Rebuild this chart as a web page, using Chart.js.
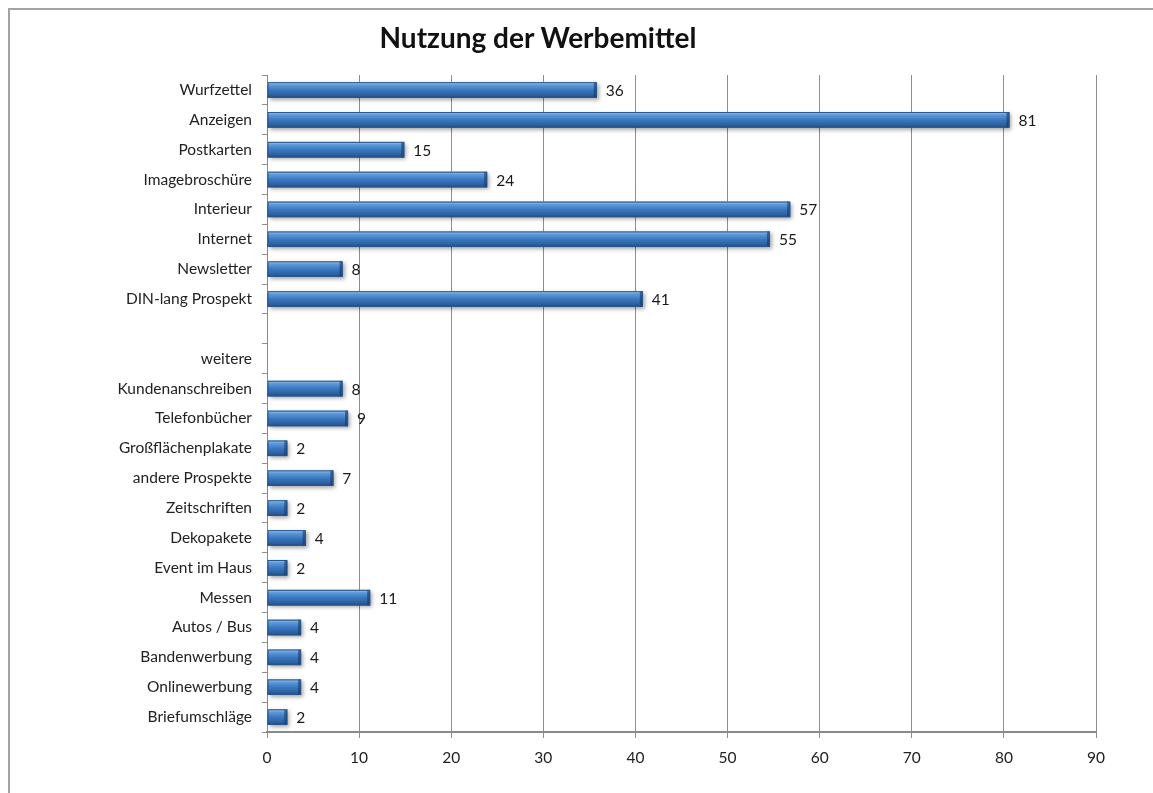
<!DOCTYPE html>
<html>
<head>
<meta charset="utf-8">
<script src="https://cdn.jsdelivr.net/npm/chart.js@4"></script>
<style>
  html, body { margin: 0; padding: 0; background: #fff; overflow: hidden; }
  #frame {
    position: absolute; left: 8px; top: 8px; width: 1160px; height: 800px;
    border: 2px solid #a3a3a3; box-sizing: border-box;
  }
  #title {
    position: absolute; left: 0; width: 1076px; top: 20px; text-align: center;
    font: bold 28px Lato, "Open Sans", sans-serif; color: #111;
  }
  #wrap { position: absolute; left: 0; top: 0; width: 1153px; height: 793px; }
</style>
</head>
<body>
<div id="frame"></div>
<div id="wrap"><canvas id="chart"></canvas></div>
<div id="title">Nutzung der Werbemittel</div>
<script>
const categories = [
  'Wurfzettel', 'Anzeigen', 'Postkarten', 'Imagebroschüre', 'Interieur', 'Internet',
  'Newsletter', 'DIN-lang Prospekt', '', 'weitere', 'Kundenanschreiben', 'Telefonbücher',
  'Großflächenplakate', 'andere Prospekte', 'Zeitschriften', 'Dekopakete', 'Event im Haus',
  'Messen', 'Autos / Bus', 'Bandenwerbung', 'Onlinewerbung', 'Briefumschläge'
];
const values = [36, 81, 15, 24, 57, 55, 8, 41, null, null, 8, 9, 2, 7, 2, 4, 2, 11, 4, 4, 4, 2];
// bars in the picture are slightly shorter than the labels say
const barLengths = [35.8, 80.6, 14.9, 23.9, 56.8, 54.6, 8.2, 40.8, null, null, 8.2, 8.8, 2.2, 7.2, 2.2, 4.2, 2.2, 11.2, 3.7, 3.7, 3.7, 2.2];
const xTicks = [0, 10, 20, 30, 40, 50, 60, 70, 80, 90];

const FONT = 'Lato, "Open Sans", sans-serif';

// glossy look + value labels, drawn from the bar elements the library laid out
const barStyle = {
  id: 'barStyle',
  beforeDatasetsDraw(chart) {
    const ctx = chart.ctx;
    ctx.save();
    chart.getDatasetMeta(0).data.forEach((bar, i) => {
      if (values[i] == null) return;
      const top = bar.y - bar.height / 2;
      ctx.shadowColor = 'rgba(0,0,0,0.35)';
      ctx.shadowBlur = 4;
      ctx.shadowOffsetX = 2;
      ctx.shadowOffsetY = 2;
      ctx.fillStyle = '#2d6099';
      ctx.fillRect(bar.base, top, bar.x - bar.base, bar.height);
    });
    ctx.restore();
  },
  afterDatasetsDraw(chart) {
    const ctx = chart.ctx;
    ctx.save();
    chart.getDatasetMeta(0).data.forEach((bar, i) => {
      if (values[i] == null) return;
      const top = bar.y - bar.height / 2;
      const w = bar.x - bar.base;
      const g = ctx.createLinearGradient(0, top, 0, top + bar.height);
      g.addColorStop(0, '#a9cbee');
      g.addColorStop(0.18, '#5d9ad9');
      g.addColorStop(0.5, '#3b78c0');
      g.addColorStop(0.85, '#2b5f9e');
      g.addColorStop(1, '#1d4a80');
      ctx.fillStyle = g;
      ctx.fillRect(bar.base, top, w, bar.height);
      // darker end cap
      const cap = Math.min(3, w / 3);
      ctx.fillStyle = 'rgba(20,50,95,0.55)';
      ctx.fillRect(bar.x - cap, top, cap, bar.height);
      ctx.strokeStyle = '#27568e';
      ctx.lineWidth = 1;
      ctx.strokeRect(bar.base + 0.5, top + 0.5, w - 1, bar.height - 1);

      ctx.fillStyle = '#1a1a1a';
      ctx.font = '15.5px ' + FONT;
      ctx.textAlign = 'left';
      ctx.textBaseline = 'middle';
      ctx.fillText(String(values[i]), bar.x + 9, bar.y + 1);
    });
    ctx.restore();
  }
};

new Chart(document.getElementById('chart'), {
  type: 'bar',
  data: {
    labels: categories,
    datasets: [{
      data: barLengths,
      backgroundColor: 'rgba(0,0,0,0)',
      borderWidth: 0,
      barPercentage: 0.52,
      categoryPercentage: 1
    }]
  },
  options: {
    indexAxis: 'y',
    responsive: true,
    maintainAspectRatio: false,
    animation: false,
    events: [],
    layout: { padding: { left: 0, top: 75, right: 57, bottom: 0 } },
    plugins: {
      legend: { display: false },
      title: { display: false },
      tooltip: { enabled: false }
    },
    scales: {
      x: {
        min: 0,
        max: 90,
        afterBuildTicks: (scale) => { scale.ticks = xTicks.map(v => ({ value: v })); },
        grid: { color: '#8e8e8e', lineWidth: 1, tickLength: 6, drawTicks: true },
        border: { color: '#8a8a8a', width: 2 },
        ticks: { color: '#222', font: { family: FONT, size: 15.5 }, padding: 11 },
        afterFit: (scale) => { scale.height = 61; }
      },
      y: {
        grid: { drawOnChartArea: false, color: '#8e8e8e', tickLength: 5, offset: true },
        border: { color: '#8a8a8a', width: 1 },
        ticks: { color: '#222', font: { family: FONT, size: 15.5 }, padding: 10, autoSkip: false },
        afterFit: (scale) => { scale.width = 267; }
      }
    }
  },
  plugins: [barStyle]
});
</script>
</body>
</html>
